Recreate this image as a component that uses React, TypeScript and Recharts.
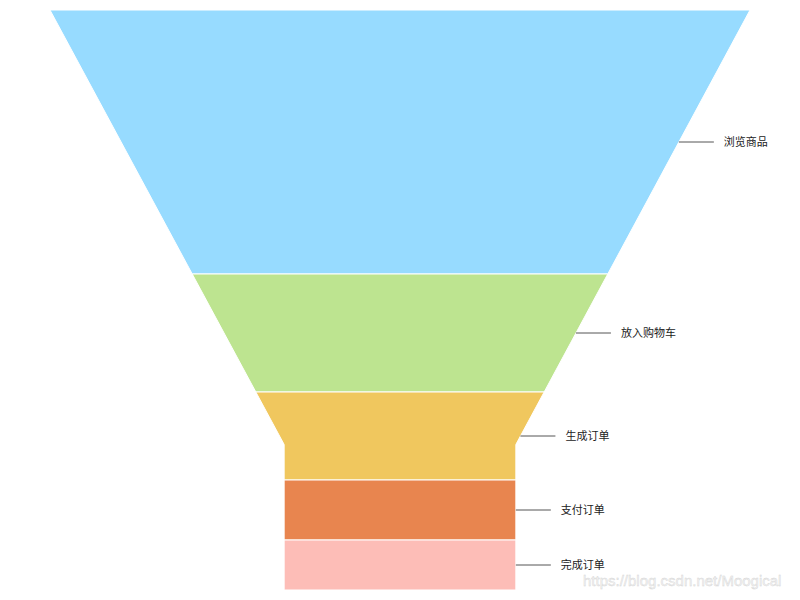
import { BarChart, Bar, XAxis, YAxis } from "recharts";

const stages = ["浏览商品", "放入购物车", "生成订单", "支付订单", "完成订单"];
const counts = [5280, 2360, 1760, 1200, 1000];
const colors = ["#97DBFF", "#BDE490", "#F0C75E", "#E8854F", "#FDBDB7"];

const MARGIN = { top: 10, right: 50, bottom: 10, left: 50 };
const TAPER = 0.893; // how fast the funnel narrows over its height
const MIN_RATIO = 0.331; // narrowest width, relative to the top

const row: Record<string, string | number> = { name: "funnel" };
stages.forEach((s, i) => (row[s] = counts[i]));
const data = [row];
const total = counts.reduce((a, b) => a + b, 0);

function makeShape(i: number) {
  return (props: any) => {
    const { x, y, width, height, background } = props;
    const top = background?.y ?? MARGIN.top;
    const full = background?.height ?? 580;
    const y0 = Math.min(y, y + height);
    const y1 = Math.max(y, y + height);
    const cx = x + width / 2;
    const w = (yy: number) =>
      width * Math.max(MIN_RATIO, 1 - (TAPER * (yy - top)) / full);

    const kneeY = top + (full * (1 - MIN_RATIO)) / TAPER;
    const ys = [y0];
    if (kneeY > y0 && kneeY < y1) ys.push(kneeY);
    ys.push(y1);
    const pts = [
      ...ys.map((yy) => [cx - w(yy) / 2, yy]),
      ...ys.slice().reverse().map((yy) => [cx + w(yy) / 2, yy]),
    ];
    const d = "M" + pts.map((p) => `${p[0]},${p[1]}`).join("L") + "Z";

    const my = (y0 + y1) / 2;
    const ex = cx + w(my) / 2;
    return (
      <g>
        <path d={d} fill={colors[i]} stroke="#fff" strokeWidth={1} />
        <line x1={ex} y1={my} x2={ex + 35} y2={my} stroke="#555" strokeWidth={1} />
        <text
          x={ex + 45}
          y={my}
          dy="0.35em"
          fontSize={11}
          fill="#222"
          fontFamily="Noto Sans CJK SC, sans-serif"
        >
          {stages[i]}
        </text>
      </g>
    );
  };
}

export default function App() {
  return (
    <div style={{ position: "absolute", left: 0, top: 0, width: 800, height: 600, background: "#fff", overflow: "hidden" }}>
      <BarChart width={800} height={600} data={data} margin={MARGIN} barCategoryGap={0}>
        <XAxis dataKey="name" type="category" hide />
        <YAxis type="number" domain={[0, total]} reversed hide />
        {stages.map((s, i) => (
          <Bar
            key={s}
            dataKey={s}
            stackId="funnel"
            fill={colors[i]}
            shape={makeShape(i)}
            isAnimationActive={false}
          />
        ))}
      </BarChart>
      <span
        style={{
          position: "absolute",
          left: 583,
          top: 572,
          fontSize: 15,
          lineHeight: "17px",
          whiteSpace: "nowrap",
          fontFamily: "Liberation Sans, sans-serif",
          color: "#f4f4f4",
          WebkitTextStroke: "0.4px #d4d4d4",
        }}
      >
        https://blog.csdn.net/Moogical
      </span>
    </div>
  );
}
